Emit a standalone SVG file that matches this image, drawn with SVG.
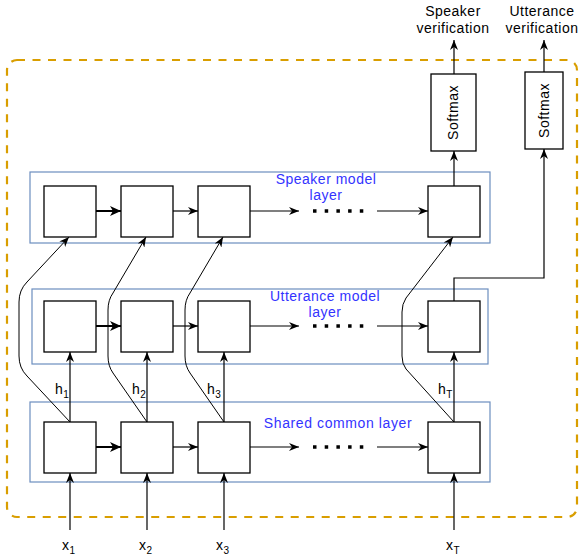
<svg xmlns="http://www.w3.org/2000/svg" width="580" height="558" viewBox="0 0 580 558">
<style>
  text { font-family: "Liberation Sans", Arial, Helvetica, sans-serif; font-size: 14px; letter-spacing: 0.5px; fill: #000; }
  .blue { fill: #3333FF; }
  .layer { fill: none; stroke: #6C8EBF; stroke-width: 1.2; }
  .box { fill: #FFFFFF; stroke: #000; stroke-width: 1.3; }
  .ln { fill: none; stroke: #000; stroke-width: 1.2; }
  .thin { fill: none; stroke: #000; stroke-width: 1; }
  .thick { fill: none; stroke: #000; stroke-width: 2; }
  .dots { fill: none; stroke: #000; stroke-width: 3.5; stroke-dasharray: 3.5 8.2; }
  .sub { font-size: 10px; }
</style>
<defs>
  <marker id="arr" viewBox="0 0 10 8" refX="10" refY="4" markerWidth="10" markerHeight="8" markerUnits="userSpaceOnUse" orient="auto">
    <path d="M0,0 L10,4 L0,8 L3,4 Z" fill="#000"/>
  </marker>
  <marker id="arrB" viewBox="0 0 11 10" refX="11" refY="5" markerWidth="11" markerHeight="10" markerUnits="userSpaceOnUse" orient="auto">
    <path d="M0,0 L11,5 L0,10 L3,5 Z" fill="#000"/>
  </marker>
</defs>

<rect id="frame" x="7" y="60" width="570" height="457" rx="10" ry="10" fill="none" stroke="#D99E00" stroke-width="2.2" stroke-dasharray="8 7.5"/>

<g id="speaker-layer">
  <rect class="layer" x="30" y="172" width="460" height="71"/>
  <text class="blue" x="326" y="184" text-anchor="middle">Speaker model</text>
  <text class="blue" x="326" y="200" text-anchor="middle">layer</text>
</g>
<g id="utterance-layer">
  <rect class="layer" x="32" y="289" width="456" height="75"/>
  <text class="blue" x="325" y="301" text-anchor="middle">Utterance model</text>
  <text class="blue" x="325" y="317" text-anchor="middle">layer</text>
</g>
<g id="shared-layer">
  <rect class="layer" x="30" y="402" width="460" height="80"/>
  <text class="blue" x="338" y="428" text-anchor="middle" style="letter-spacing:0.6px">Shared common layer</text>
</g>

<g id="connectors">
  <!-- row arrows: speaker -->
  <path class="thick" d="M96,211 L121,211" marker-end="url(#arrB)"/>
  <path class="ln" d="M173,211 L198,211" marker-end="url(#arr)"/>
  <path class="ln" d="M250,211 L299,211" marker-end="url(#arr)"/>
  <path class="dots" d="M313,211 L366,211"/>
  <path class="ln" d="M377,211 L428,211" marker-end="url(#arr)"/>
  <!-- row arrows: utterance -->
  <path class="thick" d="M96,326 L121,326" marker-end="url(#arrB)"/>
  <path class="ln" d="M173,326 L198,326" marker-end="url(#arr)"/>
  <path class="ln" d="M250,326 L299,326" marker-end="url(#arr)"/>
  <path class="dots" d="M313,326 L366,326"/>
  <path class="ln" d="M377,326 L428,326" marker-end="url(#arr)"/>
  <!-- row arrows: shared -->
  <path class="thick" d="M96,447 L121,447" marker-end="url(#arrB)"/>
  <path class="ln" d="M173,447 L198,447" marker-end="url(#arr)"/>
  <path class="ln" d="M250,447 L299,447" marker-end="url(#arr)"/>
  <path class="dots" d="M313,447 L366,447"/>
  <path class="ln" d="M377,447 L428,447" marker-end="url(#arr)"/>
  <!-- inputs -->
  <path class="ln" d="M70,530 L70,473" marker-end="url(#arr)"/>
  <path class="ln" d="M147,530 L147,473" marker-end="url(#arr)"/>
  <path class="ln" d="M224,530 L224,473" marker-end="url(#arr)"/>
  <path class="ln" d="M454,530 L454,473" marker-end="url(#arr)"/>
  <!-- shared to utterance -->
  <path class="ln" d="M70,422 L70,352" marker-end="url(#arr)"/>
  <path class="ln" d="M147,422 L147,352" marker-end="url(#arr)"/>
  <path class="ln" d="M224,422 L224,352" marker-end="url(#arr)"/>
  <path class="ln" d="M454,422 L454,352" marker-end="url(#arr)"/>
  <!-- shared to speaker (curved) -->
  <path class="thin" d="M70,422 L27,376 Q19,368 19,356 L19,302 Q19,290 27,282 L69,237" marker-end="url(#arr)"/>
  <path class="thin" d="M147,422 L113,373 Q108,366 108,356 L108,310 Q108,300 113,293 L146,237" marker-end="url(#arr)"/>
  <path class="thin" d="M224,422 L190,373 Q185,366 185,356 L185,310 Q185,300 190,293 L223,237" marker-end="url(#arr)"/>
  <path class="thin" d="M454,422 L406,369 Q402,364 402,356 L402,312 Q402,304 406,298 L453,237" marker-end="url(#arr)"/>
  <!-- to softmax -->
  <path class="ln" d="M454,186 L454,151" marker-end="url(#arr)"/>
  <path class="ln" d="M454,301 L454,278 L544,278 L544,149" marker-end="url(#arr)"/>
  <path class="ln" d="M454,74 L454,40" marker-end="url(#arr)"/>
  <path class="ln" d="M544,72 L544,40" marker-end="url(#arr)"/>
</g>

<g id="spk1"><rect class="box" x="44" y="186" width="52" height="51"/></g>
<g id="spk2"><rect class="box" x="121" y="186" width="52" height="51"/></g>
<g id="spk3"><rect class="box" x="198" y="186" width="52" height="51"/></g>
<g id="spkT"><rect class="box" x="428" y="186" width="52" height="51"/></g>

<g id="utt1"><rect class="box" x="44" y="301" width="52" height="51"/></g>
<g id="utt2"><rect class="box" x="121" y="301" width="52" height="51"/></g>
<g id="utt3"><rect class="box" x="198" y="301" width="52" height="51"/></g>
<g id="uttT"><rect class="box" x="428" y="301" width="52" height="51"/></g>

<g id="sh1"><rect class="box" x="44" y="422" width="52" height="51"/></g>
<g id="sh2"><rect class="box" x="121" y="422" width="52" height="51"/></g>
<g id="sh3"><rect class="box" x="198" y="422" width="52" height="51"/></g>
<g id="shT"><rect class="box" x="428" y="422" width="52" height="51"/></g>

<g id="softmax1">
  <rect class="box" x="431" y="74" width="45" height="77"/>
  <text transform="translate(458,112.5) rotate(-90)" text-anchor="middle">Softmax</text>
</g>
<g id="softmax2">
  <rect class="box" x="525" y="72" width="38" height="77"/>
  <text transform="translate(549,110.5) rotate(-90)" text-anchor="middle">Softmax</text>
</g>

<g id="out-speaker">
  <text x="453" y="16" text-anchor="middle">Speaker</text>
  <text x="453" y="32.5" text-anchor="middle">verification</text>
</g>
<g id="out-utterance">
  <text x="542" y="16" text-anchor="middle">Utterance</text>
  <text x="542" y="32.5" text-anchor="middle">verification</text>
</g>

<g id="hlabels">
  <text x="55" y="394">h<tspan class="sub" dy="4">1</tspan></text>
  <text x="132" y="394">h<tspan class="sub" dy="4">2</tspan></text>
  <text x="207" y="394">h<tspan class="sub" dy="4">3</tspan></text>
  <text x="438" y="394">h<tspan class="sub" dy="4">T</tspan></text>
</g>
<g id="xlabels">
  <text x="62" y="550">x<tspan class="sub" dy="4">1</tspan></text>
  <text x="139" y="550">x<tspan class="sub" dy="4">2</tspan></text>
  <text x="216" y="550">x<tspan class="sub" dy="4">3</tspan></text>
  <text x="446" y="550">x<tspan class="sub" dy="4">T</tspan></text>
</g>
</svg>
